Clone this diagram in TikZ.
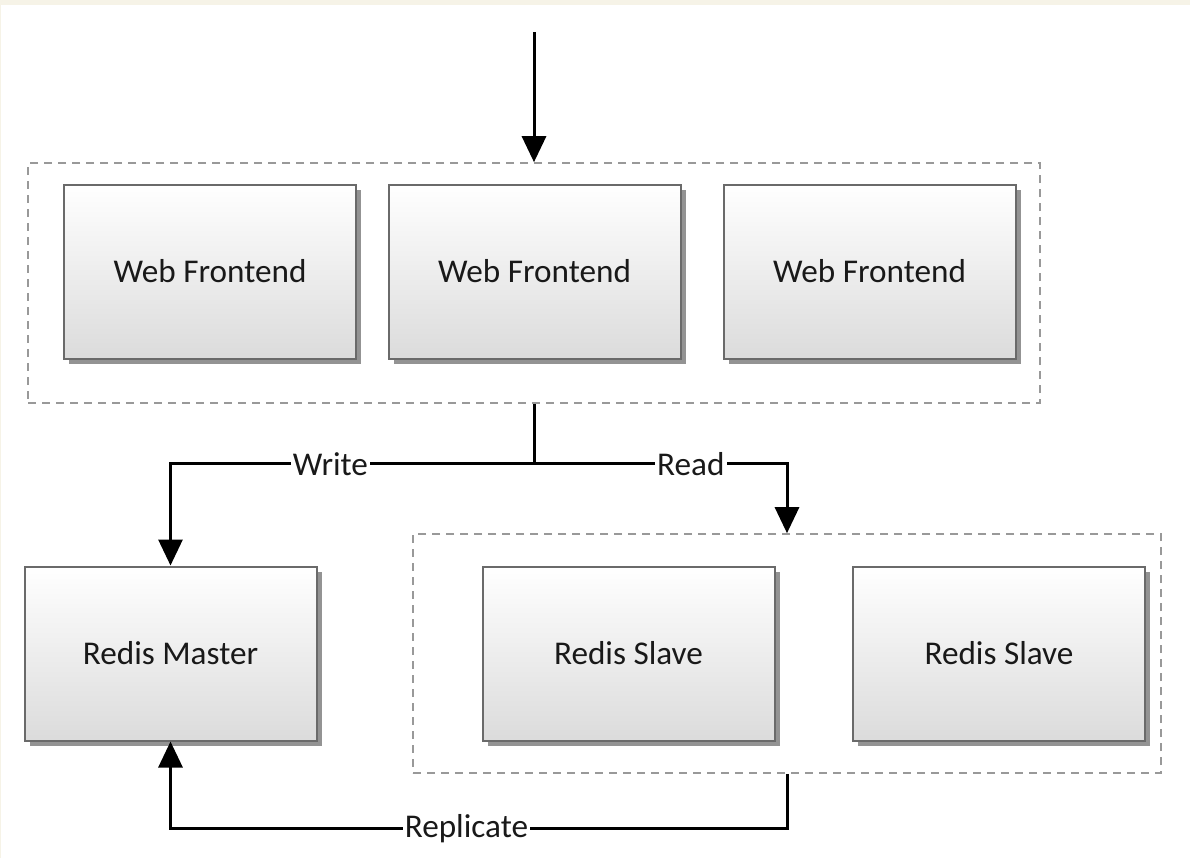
\documentclass[tikz,border=0pt]{standalone}
\usepackage{fontspec}
\setmainfont{Carlito}
\usetikzlibrary{arrows.meta,shadows}
\definecolor{paper}{HTML}{F6F3E7}
\definecolor{boxline}{HTML}{6A6A6A}

\begin{document}
\begin{tikzpicture}[x=0.5pt,y=-0.5pt,
      >={Triangle[length=13pt,width=12pt]},
      font=\fontsize{16.6}{19}\selectfont,
      main node/.style={rectangle,draw=boxline,line width=1pt,
        top color=white,bottom color=gray!28,text=black!90,
        minimum width=146pt,minimum height=87pt,
        drop shadow={shadow xshift=2.5pt,shadow yshift=-2.5pt,fill=gray!85,opacity=1}},
      group/.style={rectangle,draw=gray!80,line width=0.8pt,dash pattern=on 4pt off 3pt},
      link/.style={line width=1.5pt},
      tag/.style={fill=white,inner sep=1pt,text=black!90}]

      \fill[paper] (0,0) rectangle (1190,858);
      \fill[white] (1,5) rectangle (1190,858);
      \useasboundingbox (0,0) rectangle (1190,858);

      % dashed groups
      \node[group,minimum width=506pt,minimum height=120pt] (web) at (534,283) {};
      \node[group,minimum width=374pt,minimum height=119.5pt] (slaves) at (787,653.5) {};

      % servers
      \node[main node] (wf1) at (210,271.5) {Web Frontend};
      \node[main node] (wf2) at (534.5,271.5) {Web Frontend};
      \node[main node] (wf3) at (869.5,271.5) {Web Frontend};
      \node[main node] (master) at (170.5,653.5) {Redis Master};
      \node[main node] (slave1) at (628.5,653.5) {Redis Slave};
      \node[main node] (slave2) at (999,653.5) {Redis Slave};

      % connectors
      \coordinate (in) at (534,32);
      \draw[link,->] (in) -- (web.north);
      \draw[link] (web.south) -- ++(0,60) coordinate (split);
      \draw[link,->] (split) -| node[tag,pos=0.28] {Write} (master.north);
      \draw[link,->] (split) -| node[tag,pos=0.31] {Read} (slaves.north);
      \draw[link,->] (slaves.south) -- ++(0,55) -| node[tag,pos=0.26] {Replicate} (master.south);
    \end{tikzpicture}
\end{document}
